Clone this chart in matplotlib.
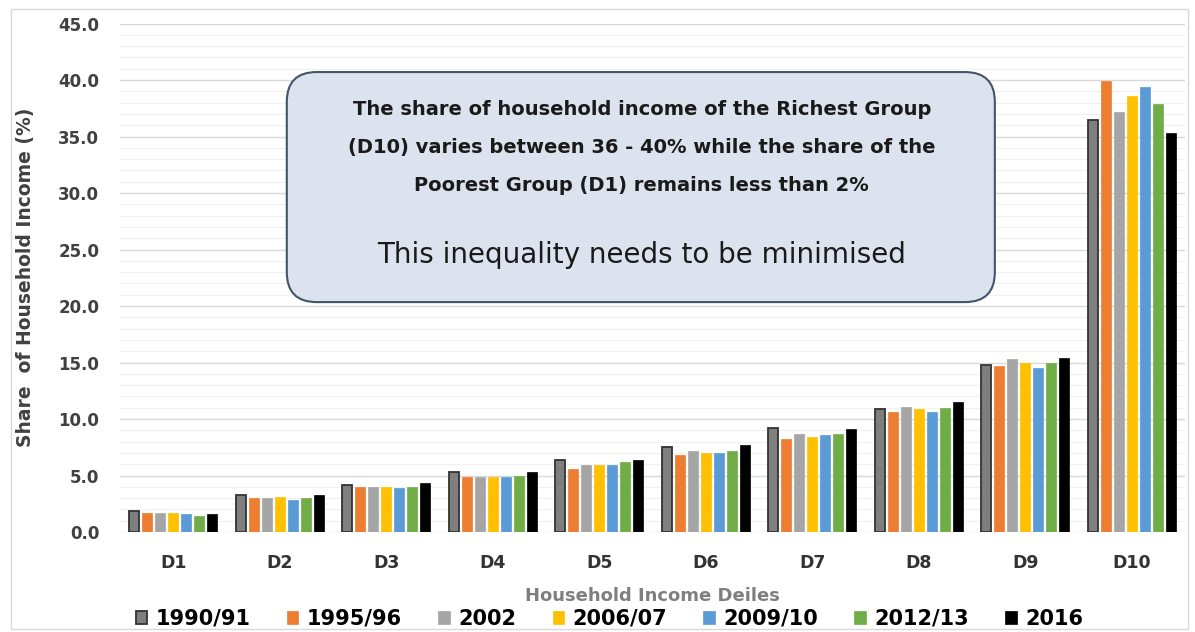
import numpy as np
import matplotlib.pyplot as plt
from matplotlib.patches import FancyBboxPatch, Rectangle
from matplotlib.ticker import MultipleLocator

plt.rcParams['font.family'] = ['DejaVu Sans']

deciles = ['D1', 'D2', 'D3', 'D4', 'D5', 'D6', 'D7', 'D8', 'D9', 'D10']
years = ['1990/91', '1995/96', '2002', '2006/07', '2009/10', '2012/13', '2016']

s_1990 = [1.9, 3.3, 4.2, 5.3, 6.4, 7.5, 9.2, 10.9, 14.8, 36.5]
s_1995 = [1.65, 3.05, 4.0, 4.9, 5.6, 6.85, 8.25, 10.6, 14.7, 39.9]
s_2002 = [1.65, 3.05, 4.0, 4.9, 5.9, 7.2, 8.7, 11.1, 15.3, 37.2]
s_2006 = [1.65, 3.1, 4.0, 4.9, 5.9, 7.0, 8.45, 10.9, 15.0, 38.6]
s_2009 = [1.6, 2.8, 3.9, 4.9, 5.95, 7.0, 8.6, 10.65, 14.5, 39.4]
s_2012 = [1.4, 3.05, 4.0, 5.0, 6.2, 7.2, 8.7, 10.95, 15.0, 37.9]
s_2016 = [1.6, 3.25, 4.3, 5.3, 6.4, 7.7, 9.1, 11.55, 15.4, 35.3]
series = [s_1990, s_1995, s_2002, s_2006, s_2009, s_2012, s_2016]

colors = ['#7f7f7f', '#ed7d31', '#a5a5a5', '#ffc000', '#5b9bd5', '#70ad47', '#000000']
edges = ['#333333', '#ed7d31', '#a5a5a5', '#ffc000', '#5b9bd5', '#70ad47', '#000000']

fig = plt.figure(figsize=(11.95, 6.32), dpi=100)
ax = fig.add_axes([0.1004, 0.1582, 0.8912, 0.8046])

x = np.arange(len(deciles))
step = 0.122
width = 0.092
for i, vals in enumerate(series):
    off = (i - 3) * step
    ax.bar(x + off, vals, width, color=colors[i], edgecolor=edges[i],
           linewidth=1.3 if i == 0 else 0.5, label=years[i], zorder=3)

ax.set_xlim(-0.5, 9.5)
ax.set_ylim(0, 45)
ax.yaxis.set_major_locator(MultipleLocator(5))
ax.yaxis.set_minor_locator(MultipleLocator(1))
ax.grid(axis='y', which='major', color='#d9d9d9', linewidth=1.0, zorder=0)
ax.grid(axis='y', which='minor', color='#f0f0f0', linewidth=0.8, zorder=0)
ax.set_axisbelow(True)
for sp in ax.spines.values():
    sp.set_visible(False)
ax.tick_params(axis='both', which='both', length=0)
ax.tick_params(axis='y', pad=15)
ax.tick_params(axis='x', pad=16)
ax.set_xticks(x)
ax.set_xticklabels(deciles, fontsize=12.5, fontweight='bold', color='#333333')
ax.set_yticks(np.arange(0, 46, 5))
ax.set_yticklabels(['%.1f' % v for v in np.arange(0, 46, 5)], fontsize=12,
                   fontweight='bold', color='#404040')
ax.set_ylabel('Share  of Household Income (%)', fontsize=13.5, fontweight='bold',
              color='#404040')
ax.yaxis.set_label_coords(-0.08, 0.5)
ax.set_xlabel('Household Income Deiles', fontsize=13, fontweight='bold',
              color='#7f7f7f')
ax.xaxis.set_label_coords(0.5, -0.108)

fig.legend(loc='center', bbox_to_anchor=(0.51, 0.021), ncol=7,
           frameon=False, handlelength=0.55, handleheight=0.55,
           handletextpad=0.4, columnspacing=1.75, borderpad=0.1,
           prop={'weight': 'bold', 'size': 15})

# annotation box
box = FancyBboxPatch((0.240, 0.522), 0.5925, 0.364,
                     boxstyle='round,pad=0,rounding_size=0.025',
                     mutation_aspect=1195 / 632,
                     transform=fig.transFigure, facecolor='#dce3ee',
                     edgecolor='#44546a', linewidth=1.5, zorder=5)
fig.patches.append(box)
fig.text(0.537, 0.826, 'The share of household income of the Richest Group',
         ha='center', va='center', fontsize=14, fontweight='bold', color='#1a1a1a', zorder=6)
fig.text(0.537, 0.766, '(D10) varies between 36 - 40% while the share of the',
         ha='center', va='center', fontsize=14, fontweight='bold', color='#1a1a1a', zorder=6)
fig.text(0.537, 0.706, 'Poorest Group (D1) remains less than 2%',
         ha='center', va='center', fontsize=14, fontweight='bold', color='#1a1a1a', zorder=6)
fig.text(0.537, 0.596, 'This inequality needs to be minimised',
         ha='center', va='center', fontsize=20, color='#1a1a1a', zorder=6)

fig.patches.append(Rectangle((0.009, 0.005), 0.985, 0.98, transform=fig.transFigure,
                             fill=False, edgecolor='#d9d9d9', linewidth=1.0))

fig.savefig('out.png', dpi=100)
